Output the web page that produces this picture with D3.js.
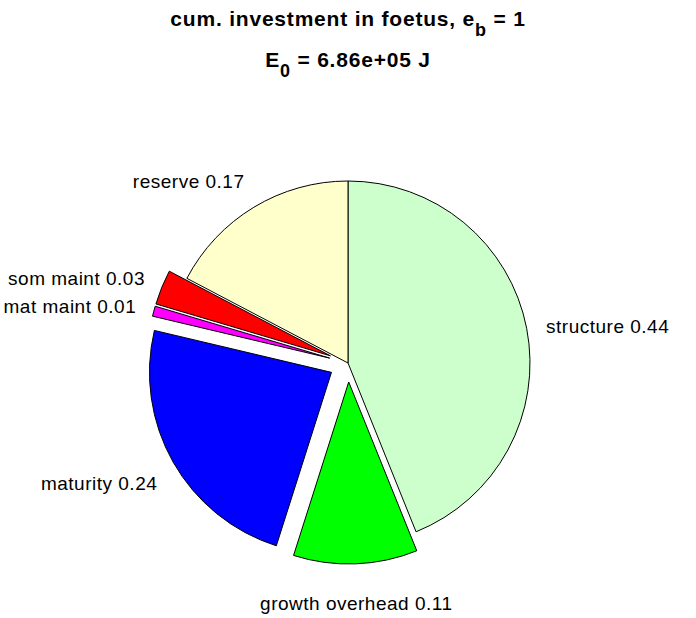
<!DOCTYPE html>
<html>
<head>
<meta charset="utf-8">
<script src="https://cdn.jsdelivr.net/npm/d3@7"></script>
<style>
  html, body { margin: 0; padding: 0; background: #fff; }
  svg { display: block; }
  text { font-family: "Liberation Sans", Arial, Helvetica, sans-serif; fill: #000; }
</style>
</head>
<body>
<svg id="chart" width="696" height="618"></svg>
<script>
// Slices in clockwise order starting at 12 o'clock
const categories = ["structure", "growth overhead", "maturity", "mat maint", "som maint", "reserve"];
const values = [0.439, 0.110, 0.238, 0.009, 0.031, 0.173];
const exploded = [false, true, true, true, true, false];
const sliceColors = ["#ccffcc", "#00ff00", "#0000ff", "#ff00ff", "#ff0000", "#ffffcc"];
const titleLine1 = ["cum. investment in foetus, e", "b", " = 1"];
const titleLine2 = ["E", "0", " = 6.86e+05 J"];

const W = 696, H = 618;
const cx = 348, cy = 363, R = 182;
const explodeDist = 19;

const svg = d3.select("#chart");

const data = categories.map((c, i) => ({ name: c, value: values[i], exploded: exploded[i], color: sliceColors[i] }));

const pie = d3.pie().value(d => d.value).sort(null).startAngle(0).endAngle(2 * Math.PI);
const arcs = pie(data);
const arc = d3.arc().innerRadius(0).outerRadius(R);

const g = svg.append("g").attr("transform", `translate(${cx},${cy})`);

arcs.forEach(a => {
  const mid = (a.startAngle + a.endAngle) / 2;
  const ux = Math.sin(mid), uy = -Math.cos(mid);
  const off = a.data.exploded ? explodeDist : 0;
  g.append("path")
    .attr("d", arc(a))
    .attr("transform", `translate(${ux * off},${uy * off})`)
    .attr("fill", a.data.color)
    .attr("stroke", "#000")
    .attr("stroke-width", 1)
    .attr("stroke-linejoin", "miter");

  const rl = R * 1.1 + off;
  const ax = ux * rl, ay = uy * rl;
  const anchor = ux > 0.3 ? "start" : (ux < -0.3 ? "end" : "middle");
  g.append("text")
    .attr("x", ax + (anchor === "start" ? 1.5 : 0))
    .attr("y", ay + 11 + 17 * uy)
    .attr("text-anchor", anchor)
    .attr("font-size", 19)
    .attr("letter-spacing", "0.5px")
    .text(a.data.name + " " + a.data.value.toFixed(2));
});

function title(parts, y) {
  const t = svg.append("text")
    .attr("x", cx)
    .attr("y", y)
    .attr("text-anchor", "middle")
    .attr("font-size", 21)
    .attr("font-weight", "bold")
    .attr("letter-spacing", "0.8px");
  t.append("tspan").text(parts[0]);
  t.append("tspan").attr("dy", 10).attr("font-size", 18).text(parts[1]);
  t.append("tspan").attr("dy", -10).text(parts[2]);
}
title(titleLine1, 26);
title(titleLine2, 67);
</script>
</body>
</html>
